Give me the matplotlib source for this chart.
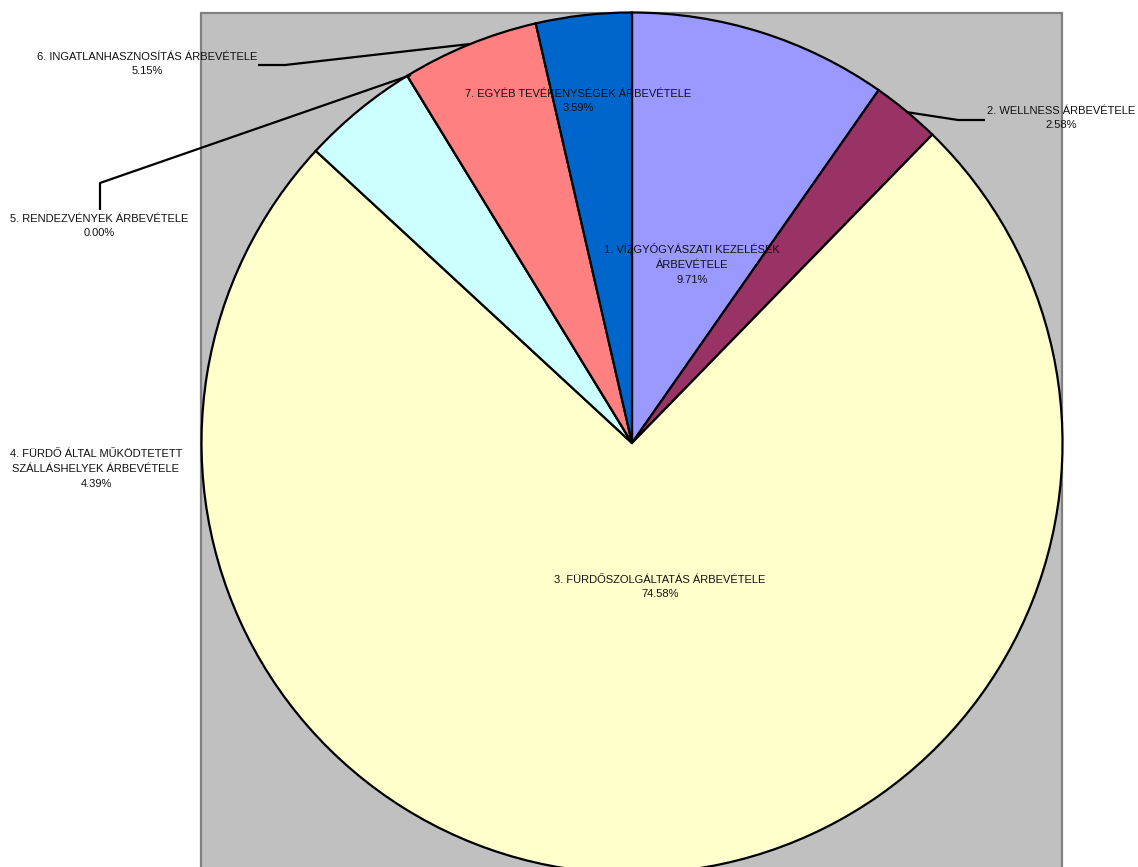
import matplotlib.pyplot as plt
from matplotlib.patches import Rectangle

# revenue shares (%)
labels = ["1. VÍZGYÓGYÁSZATI KEZELÉSEK\nÁRBEVÉTELE",
          "2. WELLNESS ÁRBEVÉTELE",
          "3. FÜRDŐSZOLGÁLTATÁS ÁRBEVÉTELE",
          "4. FÜRDŐ ÁLTAL MŰKÖDTETETT\nSZÁLLÁSHELYEK ÁRBEVÉTELE",
          "5. RENDEZVÉNYEK ÁRBEVÉTELE",
          "6. INGATLANHASZNOSÍTÁS ÁRBEVÉTELE",
          "7. EGYÉB TEVÉKENYSÉGEK ÁRBEVÉTELE"]
shares = [9.71, 2.58, 74.58, 4.39, 0.00, 5.15, 3.59]
colors = ["#9999FF", "#993366", "#FFFFCC", "#CCFFFF", "#FFFFFF", "#FF8080", "#0066CC"]

W, H = 1138, 867
plt.rcParams['font.family'] = ['Liberation Sans', 'DejaVu Sans']

fig = plt.figure(figsize=(W / 100, H / 100), dpi=100)
ax = fig.add_axes([0, 0, 1, 1])

# gray plot area
ax.add_patch(Rectangle((201, H - 874), 861, 861, facecolor="#C0C0C0",
                       edgecolor="#808080", lw=1.6, zorder=0))

cx, cy, r = 632, H - 443, 430.5
ax.pie(shares, colors=colors, startangle=90, counterclock=False,
       center=(cx, cy), radius=r, frame=True,
       wedgeprops=dict(edgecolor="black", linewidth=1.6))
ax.set_xlim(0, W)
ax.set_ylim(0, H)
ax.set_aspect("equal")
ax.axis("off")

# label positions (text centre, pixel coords from top) and leader lines
label_pos = [(692, 265), (1061, 118), (660, 587), (96, 469),
             (99, 226), (147, 64), (578, 101)]
leaders = {
    1: [(906, 112), (958, 120), (985, 120)],
    4: [(411, 75), (100, 183), (100, 210)],
    5: [(470, 44), (285, 65), (258, 65)],
}

for i, (lab, val) in enumerate(zip(labels, shares)):
    x, y = label_pos[i]
    ax.text(x, H - y, f"{lab}\n{val:.2f}%", ha="center", va="center",
            fontsize=8, linespacing=1.62, color="#111111", zorder=5)

for pts in leaders.values():
    ax.plot([p[0] for p in pts], [H - p[1] for p in pts], color="black",
            lw=1.6, zorder=4, solid_capstyle="butt")

fig.savefig("out.png", dpi=100)
